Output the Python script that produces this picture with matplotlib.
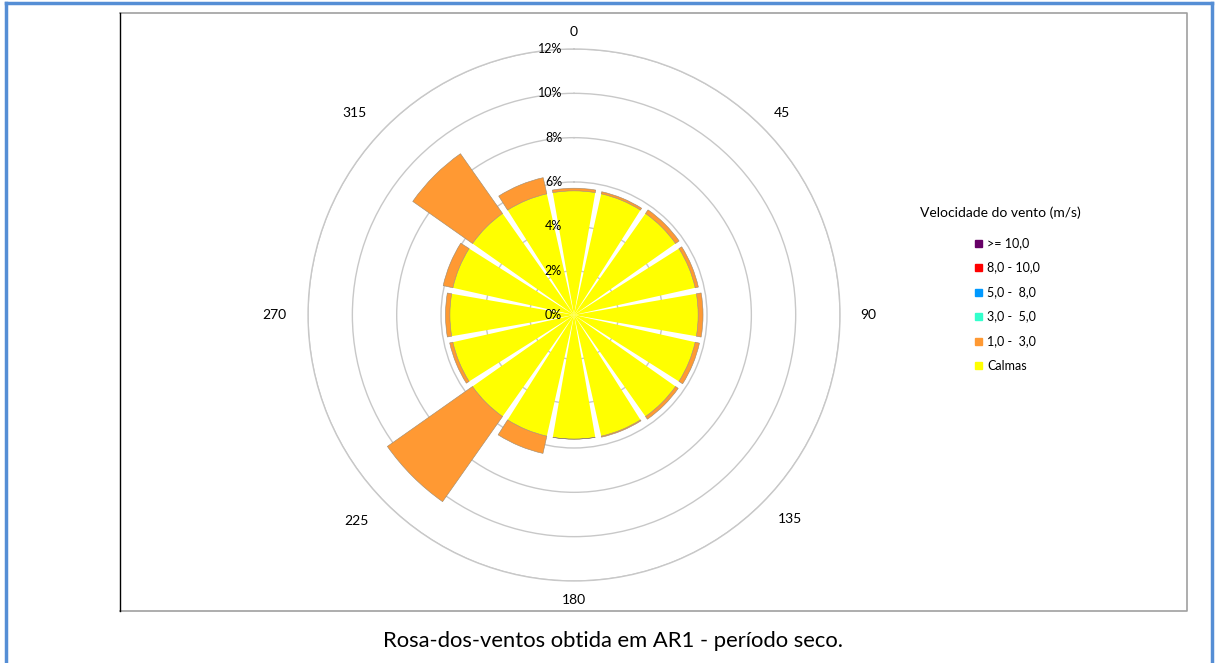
import numpy as np
import matplotlib
matplotlib.use('Agg')
import matplotlib.pyplot as plt
from matplotlib.patches import Rectangle
from matplotlib.lines import Line2D
from matplotlib.transforms import offset_copy

plt.rcParams['font.family'] = ['Lato', 'DejaVu Sans']

# 16 sector directions (degrees)
directions = np.arange(0, 360, 22.5)
# frequencies (%) per class, stacked
calmas = [5.6, 5.6, 5.6, 5.6, 5.6, 5.6, 5.6, 5.6, 5.6, 5.6, 5.6, 5.6, 5.6, 5.6, 5.6, 5.6]
v1_3 = [0.12, 0.1, 0.2, 0.15, 0.22, 0.2, 0.15, 0.05, 0.0, 0.8, 4.7, 0.15, 0.2, 0.45, 3.3, 0.75]
v3_5 = [0.0] * 16
v5_8 = [0.0] * 16
v8_10 = [0.0] * 16
v10 = [0.0] * 16

classes = ['>= 10,0', '8,0 - 10,0', '5,0 -  8,0', '3,0 -  5,0', '1,0 -  3,0', 'Calmas']
colors = ['#660066', '#FF0000', '#0099FF', '#33FFCC', '#FF9933', '#FFFF00']

r_ticks = [0, 2, 4, 6, 8, 10, 12]
r_labels = ['0%', '2%', '4%', '6%', '8%', '10%', '12%']
dir_ticks = [0, 45, 90, 135, 180, 225, 270, 315]

fig = plt.figure(figsize=(12.15, 6.63), dpi=100)

# outer blue border + chart frame
W, H = 1215, 663
def fx(x):
    return x / W
def fy(y):
    return 1 - y / H
fig.add_artist(Line2D([fx(6), fx(6)], [fy(3), 0], color='#558ED5', lw=2.5))
fig.add_artist(Line2D([fx(6), fx(1212)], [fy(3), fy(3)], color='#558ED5', lw=2.5))
fig.add_artist(Line2D([fx(1212), fx(1212)], [fy(3), 0], color='#558ED5', lw=2.5))
fig.add_artist(Line2D([fx(120), fx(1187), fx(1187), fx(120)], [fy(13), fy(13), fy(611), fy(611)], color='#a0a0a0', lw=1.2))
fig.add_artist(Line2D([fx(120), fx(120)], [fy(13), fy(611)], color='black', lw=1.0))

ax = fig.add_axes([0.2535, 0.1237, 0.4379, 0.8024], projection='polar')
ax.set_theta_zero_location('N')
ax.set_theta_direction(-1)
ax.set_axisbelow(True)

theta = np.deg2rad(directions)
width = np.deg2rad(19.7)
series = [calmas, v1_3, v3_5, v5_8, v8_10, v10]
series_colors = ['#FFFF00', '#FF9933', '#33FFCC', '#0099FF', '#FF0000', '#660066']
bottom = np.zeros(16)
for vals, c in zip(series, series_colors):
    vals = np.array(vals)
    ec = '#9a8a70' if c == '#FF9933' else 'none'
    ax.bar(theta, vals, width=width, bottom=bottom, color=c, edgecolor=ec, linewidth=0.4, zorder=2)
    bottom = bottom + vals

ax.set_ylim(0, 12)
ax.set_yticks(r_ticks)
ax.set_yticklabels([])
ax.yaxis.grid(True, color='#c8c8c8', lw=1.0)
ax.xaxis.grid(False)
ax.set_xticks([])
ax.spines['polar'].set_color('#c8c8c8')
ax.spines['polar'].set_linewidth(1.0)

# direction labels, placed like Excel does (further out on the sides)
label_pos = {0: (0, 12.75), 45: (45.8, 13.08), 90: (90, 13.26), 135: (133.4, 13.4),
             180: (180, 12.85), 225: (226.6, 13.53), 270: (270, 13.53), 315: (312.6, 13.47)}
for d in dir_ticks:
    a, r = label_pos[d]
    ax.text(np.deg2rad(a), r, str(d), ha='center', va='center', fontsize=10, clip_on=False)

trans = offset_copy(ax.transData, fig=fig, x=-12, y=0, units='dots')
for r, lab in zip(r_ticks, r_labels):
    ax.text(0, r, lab, transform=trans, ha='right', va='center', fontsize=9, zorder=5)

# legend
fig.text(fx(1000), fy(213), 'Velocidade do vento (m/s)', ha='center', va='center', fontsize=10)
for i, (lab, c) in enumerate(zip(classes, colors)):
    y = 243 + i * 24.5
    fig.add_artist(Rectangle((fx(975), fy(y + 3.5)), 7 / W, 7 / H, color=c, transform=fig.transFigure))
    fig.text(fx(987), fy(y), lab, ha='left', va='center', fontsize=9)

fig.text(fx(613), fy(641), 'Rosa-dos-ventos obtida em AR1 - período seco.', ha='center', va='center', fontsize=15.8)

fig.savefig('out.png', dpi=100)
